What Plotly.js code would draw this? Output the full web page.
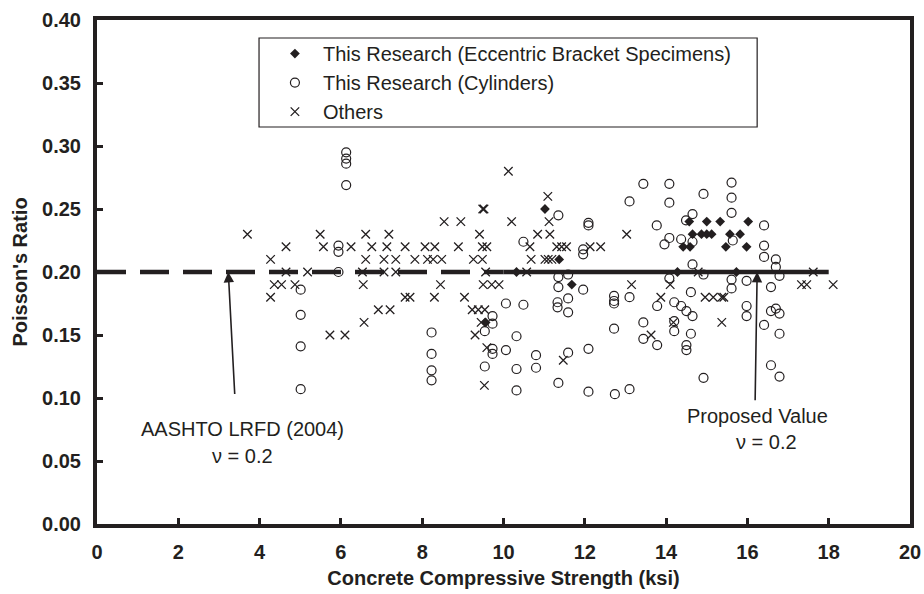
<!DOCTYPE html>
<html>
<head>
<meta charset="utf-8">
<script src="https://cdn.plot.ly/plotly-3.0.1.min.js"></script>
<style>html,body{margin:0;padding:0;background:#fff;}#chart{width:924px;height:594px;}</style>
</head>
<body>
<div id="chart"></div>
<script>
// Eccentric bracket specimens (filled diamonds)
const bracketX = [11.02, 11.37, 10.32, 11.68, 9.56, 14.57, 15.00, 15.33, 16.02, 14.65, 14.87, 15.00, 15.12, 15.57, 15.82, 14.42, 14.59, 15.47, 15.98, 14.28, 15.73];
const bracketY = [0.25, 0.21, 0.20, 0.19, 0.16, 0.24, 0.24, 0.24, 0.24, 0.23, 0.23, 0.23, 0.23, 0.23, 0.23, 0.22, 0.22, 0.22, 0.22, 0.20, 0.20];

// Cylinders (open circles)
const cylX = [6.13, 6.13, 6.13, 6.13, 5.94, 5.94, 5.94, 5.01, 5.01, 5.01, 5.01,
  11.35, 10.49, 11.35, 11.59, 11.35, 10.06, 10.49, 11.33, 11.33, 11.59, 11.59,
  9.73, 9.73, 9.54, 8.23, 10.32, 9.73, 9.73, 10.06, 8.23, 10.80, 11.59,
  8.23, 8.23, 9.54, 10.32, 10.80, 11.35, 10.32,
  13.44, 14.08, 15.61, 14.92, 15.61, 13.10, 14.08,
  12.09, 12.09, 13.77, 15.61, 14.65, 14.49,
  14.08, 13.96, 14.37, 14.65, 15.64,
  11.96, 11.96,
  14.65, 14.92, 14.08, 15.61, 15.98, 15.61, 11.96, 14.61,
  12.72, 12.72, 12.72, 13.10, 13.78, 14.20, 14.37, 14.50, 14.65, 15.98, 15.98,
  13.44, 14.20, 14.20, 12.72, 13.44, 13.78, 14.61, 14.50, 14.50, 12.09,
  14.92, 12.09, 12.74, 13.10,
  16.41, 16.41, 16.41, 16.70, 16.70, 16.79, 16.58, 16.58, 16.70, 16.79, 16.41, 16.79, 16.58, 16.79];
const cylY = [0.295, 0.290, 0.286, 0.269, 0.221, 0.216, 0.200, 0.186, 0.166, 0.141, 0.107,
  0.245, 0.224, 0.196, 0.198, 0.188, 0.175, 0.174, 0.176, 0.172, 0.179, 0.168,
  0.165, 0.159, 0.153, 0.152, 0.149, 0.139, 0.135, 0.138, 0.135, 0.134, 0.136,
  0.122, 0.114, 0.125, 0.123, 0.124, 0.112, 0.106,
  0.270, 0.270, 0.271, 0.262, 0.259, 0.256, 0.255,
  0.239, 0.237, 0.237, 0.247, 0.246, 0.241,
  0.227, 0.222, 0.226, 0.224, 0.225,
  0.218, 0.214,
  0.206, 0.198, 0.195, 0.194, 0.193, 0.187, 0.186, 0.184,
  0.181, 0.177, 0.175, 0.180, 0.173, 0.176, 0.173, 0.169, 0.165, 0.173, 0.165,
  0.160, 0.161, 0.153, 0.155, 0.147, 0.142, 0.151, 0.142, 0.138, 0.139,
  0.116, 0.105, 0.103, 0.107,
  0.237, 0.221, 0.212, 0.210, 0.204, 0.197, 0.188, 0.169, 0.171, 0.167, 0.158, 0.151, 0.126, 0.117];

// Others (x marks)
const othersX = [3.70, 5.49, 6.61, 7.18, 4.65, 5.57, 6.25, 6.76, 7.13, 4.27, 6.61, 7.06, 7.35, 4.65, 5.18, 6.53, 7.06, 7.35, 4.36, 4.54, 4.87, 6.55, 4.27, 6.92, 7.21, 6.57, 5.73, 6.10,
  10.12, 11.09, 9.49, 9.52, 11.12, 8.54, 8.95, 10.20,
  9.41, 10.84, 11.14,
  7.58, 8.07, 8.31, 8.89, 9.48, 9.59, 10.65, 11.31, 11.43, 11.55,
  7.82, 8.13, 8.27, 8.48, 9.26, 9.48, 10.68, 11.02, 11.10, 11.19,
  9.56, 10.57,
  8.45, 9.50, 9.71, 9.89,
  7.58, 7.70, 8.30, 9.04,
  9.23, 9.38, 9.54,
  9.45, 9.30, 9.59, 11.47, 9.53,
  12.13, 12.39, 13.03, 13.15, 14.10, 13.87, 14.79,
  14.96, 15.16, 15.37, 15.42, 14.18, 13.63, 15.37,
  17.62, 17.33, 17.46, 18.11];
const othersY = [0.23, 0.23, 0.23, 0.23, 0.22, 0.22, 0.22, 0.22, 0.22, 0.21, 0.21, 0.21, 0.21, 0.20, 0.20, 0.20, 0.20, 0.20, 0.19, 0.19, 0.19, 0.19, 0.18, 0.17, 0.17, 0.16, 0.15, 0.15,
  0.28, 0.26, 0.25, 0.25, 0.24, 0.24, 0.24, 0.24,
  0.23, 0.23, 0.23,
  0.22, 0.22, 0.22, 0.22, 0.22, 0.22, 0.22, 0.22, 0.22, 0.22,
  0.21, 0.21, 0.21, 0.21, 0.21, 0.21, 0.21, 0.21, 0.21, 0.21,
  0.20, 0.20,
  0.19, 0.19, 0.19, 0.19,
  0.18, 0.18, 0.18, 0.18,
  0.17, 0.17, 0.17,
  0.16, 0.15, 0.14, 0.13, 0.11,
  0.22, 0.22, 0.23, 0.19, 0.19, 0.18, 0.20,
  0.18, 0.18, 0.18, 0.18, 0.16, 0.15, 0.16,
  0.20, 0.19, 0.19, 0.19];

// Reference lines nu = 0.2
const aashtoLineX = [0, 10];
const aashtoLineY = [0.2, 0.2];
const proposedLineX = [10, 18];
const proposedLineY = [0.2, 0.2];

const seriesNames = ['This Research (Eccentric Bracket Specimens)', 'This Research (Cylinders)', 'Others'];

const INK = '#231f20';
const FONT = 'Liberation Sans, Arial, Helvetica, sans-serif';

const traces = [
  {x: aashtoLineX, y: aashtoLineY, mode: 'lines', showlegend: false, hoverinfo: 'skip',
   line: {color: INK, width: 4.5, dash: '29px,14px'}},
  {x: proposedLineX, y: proposedLineY, mode: 'lines', showlegend: false, hoverinfo: 'skip',
   line: {color: INK, width: 4.5}},
  {x: bracketX, y: bracketY, mode: 'markers', name: seriesNames[0], type: 'scatter',
   marker: {symbol: 'diamond', size: 7.5, color: INK, line: {width: 0}}},
  {x: cylX, y: cylY, mode: 'markers', name: seriesNames[1], type: 'scatter',
   marker: {symbol: 'circle-open', size: 9, color: INK, line: {width: 1.2, color: INK}}},
  {x: othersX, y: othersY, mode: 'markers', name: seriesNames[2], type: 'scatter',
   marker: {symbol: 'x-thin-open', size: 8.5, color: INK, line: {width: 1.3, color: INK}}}
];

const layout = {
  width: 924, height: 594,
  margin: {l: 97, r: 14, t: 20, b: 70},
  paper_bgcolor: '#fff', plot_bgcolor: '#fff',
  font: {family: FONT, color: INK},
  showlegend: true,
  legend: {
    x: 0.209, y: 0.972, xanchor: 'left', yanchor: 'top',
    bgcolor: 'rgba(0,0,0,0)', borderwidth: 0,
    itemwidth: 46,
    font: {family: FONT, size: 20, color: INK},
    traceorder: 'normal'
  },
  xaxis: {
    range: [0, 20], dtick: 2, tick0: 0,
    showgrid: false, zeroline: false,
    showline: true, linewidth: 4, linecolor: INK, mirror: true,
    ticks: 'inside', ticklen: 6, tickwidth: 3, tickcolor: INK,
    ticklabelstandoff: 7,
    tickfont: {family: FONT, size: 20, color: INK, weight: 'bold'},
    title: {text: '<b>Concrete Compressive Strength (ksi)</b>', font: {family: FONT, size: 20, color: INK}, standoff: 10}
  },
  yaxis: {
    range: [0, 0.4], dtick: 0.05, tick0: 0, tickformat: '.2f',
    showgrid: false, zeroline: false,
    showline: true, linewidth: 4, linecolor: INK, mirror: true,
    ticks: 'inside', ticklen: 6, tickwidth: 3, tickcolor: INK,
    ticklabelstandoff: 8,
    tickfont: {family: FONT, size: 20, color: INK, weight: 'bold'},
    title: {text: "<b>Poisson's Ratio</b>", font: {family: FONT, size: 20, color: INK}, standoff: 10}
  },
  shapes: [
    {type: 'rect', xref: 'paper', yref: 'paper', x0: 0.1993, x1: 0.812, y0: 0.7877, y1: 0.9643,
     line: {color: INK, width: 1.2}, fillcolor: 'rgba(0,0,0,0)', layer: 'above'}
  ],
  annotations: [
    {x: 3.23, y: 0.2, ax: 3.39, ay: 0.102, xref: 'x', yref: 'y', axref: 'x', ayref: 'y',
     text: '', showarrow: true, arrowhead: 2, arrowsize: 1.3, arrowwidth: 1.6, arrowcolor: INK, standoff: 0},
    {x: 16.24, y: 0.2, ax: 16.19, ay: 0.097, xref: 'x', yref: 'y', axref: 'x', ayref: 'y',
     text: '', showarrow: true, arrowhead: 2, arrowsize: 1.3, arrowwidth: 1.6, arrowcolor: INK, standoff: 0},
    {x: 3.57, y: 0.0754, xref: 'x', yref: 'y', text: 'AASHTO LRFD (2004)', showarrow: false,
     font: {family: FONT, size: 20, color: INK}},
    {x: 3.57, y: 0.054, xref: 'x', yref: 'y', text: 'ν = 0.2', showarrow: false,
     font: {family: FONT, size: 20, color: INK}},
    {x: 16.24, y: 0.0857, xref: 'x', yref: 'y', text: 'Proposed Value', showarrow: false,
     font: {family: FONT, size: 20, color: INK}},
    {x: 16.48, y: 0.065, xref: 'x', yref: 'y', text: 'ν = 0.2', showarrow: false,
     font: {family: FONT, size: 20, color: INK}}
  ]
};

Plotly.newPlot('chart', traces, layout, {displayModeBar: false, staticPlot: true});
</script>
</body>
</html>
